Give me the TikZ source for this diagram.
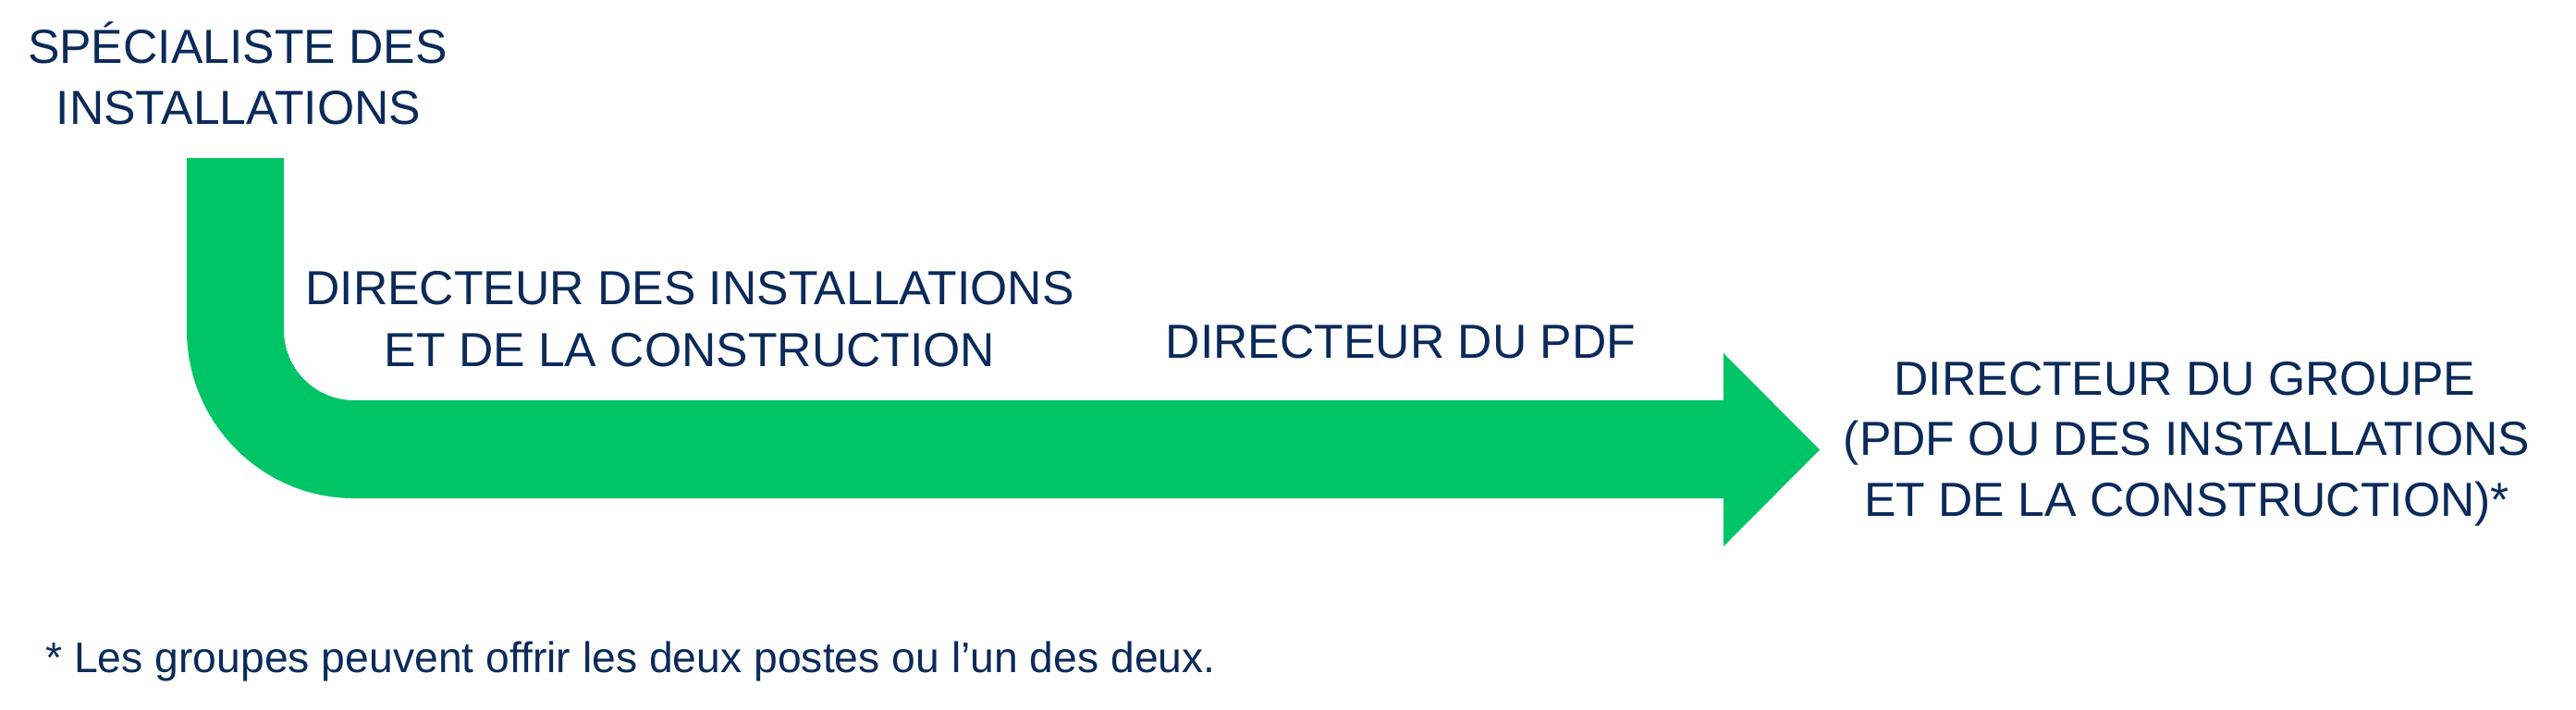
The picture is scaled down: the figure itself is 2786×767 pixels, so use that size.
\documentclass[tikz,border=0pt]{standalone}
\usepackage{fontspec}
\setmainfont{Liberation Sans}
\definecolor{navy}{HTML}{0B2A5A}
\definecolor{brandgreen}{HTML}{00C566}
\begin{document}
\begin{tikzpicture}[x=0.5pt,y=-0.5pt,
  caps/.style={inner sep=0pt, anchor=base, text=navy, font=\fontsize{25.85pt}{33pt}\selectfont},
  foot/.style={inner sep=0pt, anchor=base west, text=navy, font=\fontsize{23.15pt}{28pt}\selectfont}]
\useasboundingbox[fill=white] (0,0) rectangle (2786,767);
% bent arrow
\fill[brandgreen] (202,171) -- (307,171) -- (307,357)
  .. controls (307,399) and (341,433) .. (383,433)
  -- (1864,433) -- (1864,382) -- (1968,486.5) -- (1864,591) -- (1864,539)
  -- (383,539)
  .. controls (283,539) and (202,457) .. (202,357) -- cycle;
% labels
\node[caps] (s1) at (257,68) {SPÉCIALISTE DES};
\node[caps] (s2) at (258,134) {INSTALLATIONS};
\node[caps] (d1) at (746,329) {DIRECTEUR DES INSTALLATIONS};
\node[caps] (d2) at (746,396) {ET DE LA CONSTRUCTION};
\node[caps] (p1) at (1515,387) {DIRECTEUR DU PDF};
\node[caps] (g1) at (2363,427) {DIRECTEUR DU GROUPE};
\node[caps] (g2) at (2365,492) {(PDF OU DES INSTALLATIONS};
\node[caps] (g3) at (2365,558) {ET DE LA CONSTRUCTION)*};
\node[foot] (fn) at (49,727) {* Les groupes peuvent offrir les deux postes ou l’un des deux.};
\end{tikzpicture}
\end{document}
